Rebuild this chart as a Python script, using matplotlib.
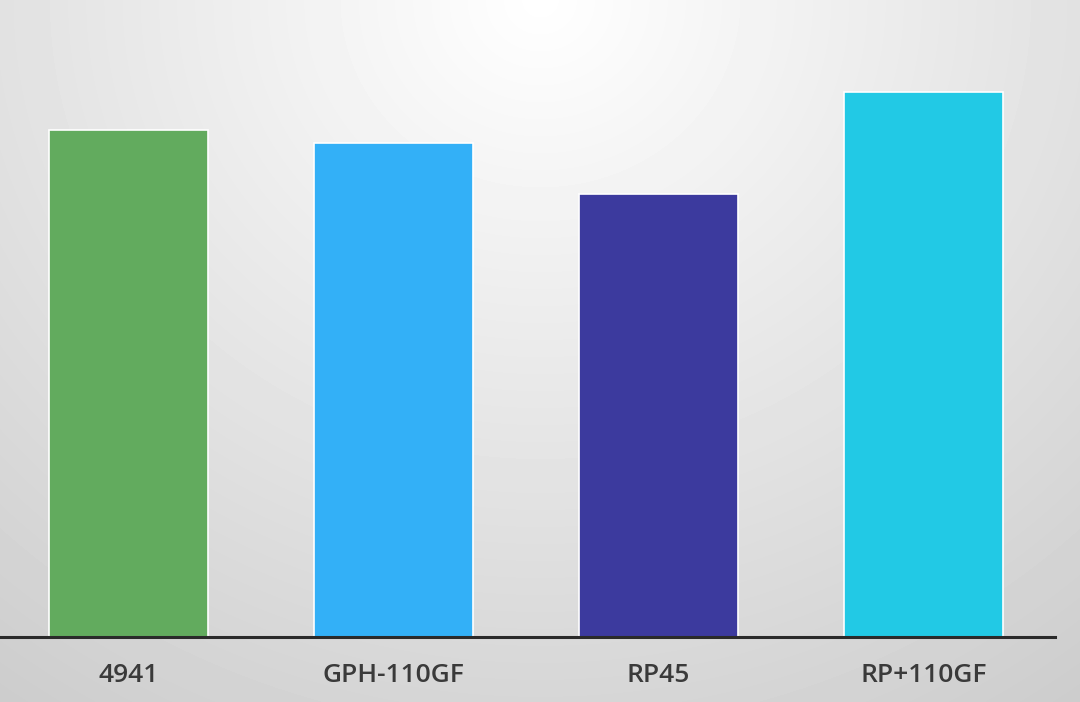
import numpy as np
import matplotlib.pyplot as plt

# Bar data (heights in arbitrary units)
categories = ['4941', 'GPH-110GF', 'RP45', 'RP+110GF']
values = [507, 494, 443, 545]
colors = ['#62ab5e', '#33b0f7', '#3c3a9e', '#22c9e5']

fig = plt.figure(figsize=(10.8, 7.02), dpi=100)

# Soft radial gradient background: white at top centre, grey towards the corners
bg = fig.add_axes([0, 0, 1, 1])
yy, xx = np.mgrid[0:702, 0:1080]
d = np.sqrt((2.15e-4 * (xx - 540)) ** 2 + (2.3e-4 * yy) ** 2)
shade = np.clip(1.0 - d, 0.78, 1.0)
bg.imshow(shade, cmap='gray', vmin=0, vmax=1, aspect='auto', extent=[0, 1, 0, 1],
          interpolation='bilinear')
bg.axis('off')

ax = fig.add_axes([0, 1 - 637 / 702, 1055 / 1080, 637 / 702])
ax.patch.set_alpha(0)
x = np.arange(len(categories))
ax.bar(x, values, width=0.6, color=colors, edgecolor='white', linewidth=1.2, zorder=2)
ax.set_xlim(-0.485, 3.496)
ax.set_ylim(0, 637)

for s in ['top', 'right', 'left']:
    ax.spines[s].set_visible(False)
ax.spines['bottom'].set_color('#2a2a2a')
ax.spines['bottom'].set_linewidth(2.2)
ax.spines['bottom'].set_zorder(3)
ax.set_yticks([])
ax.set_xticks(x)
ax.set_xticklabels(categories, fontsize=19, color='#3a3a3a', family='Open Sans',
                   fontweight='semibold')
ax.tick_params(axis='x', length=0, pad=19)

fig.savefig('out.png', dpi=100)
